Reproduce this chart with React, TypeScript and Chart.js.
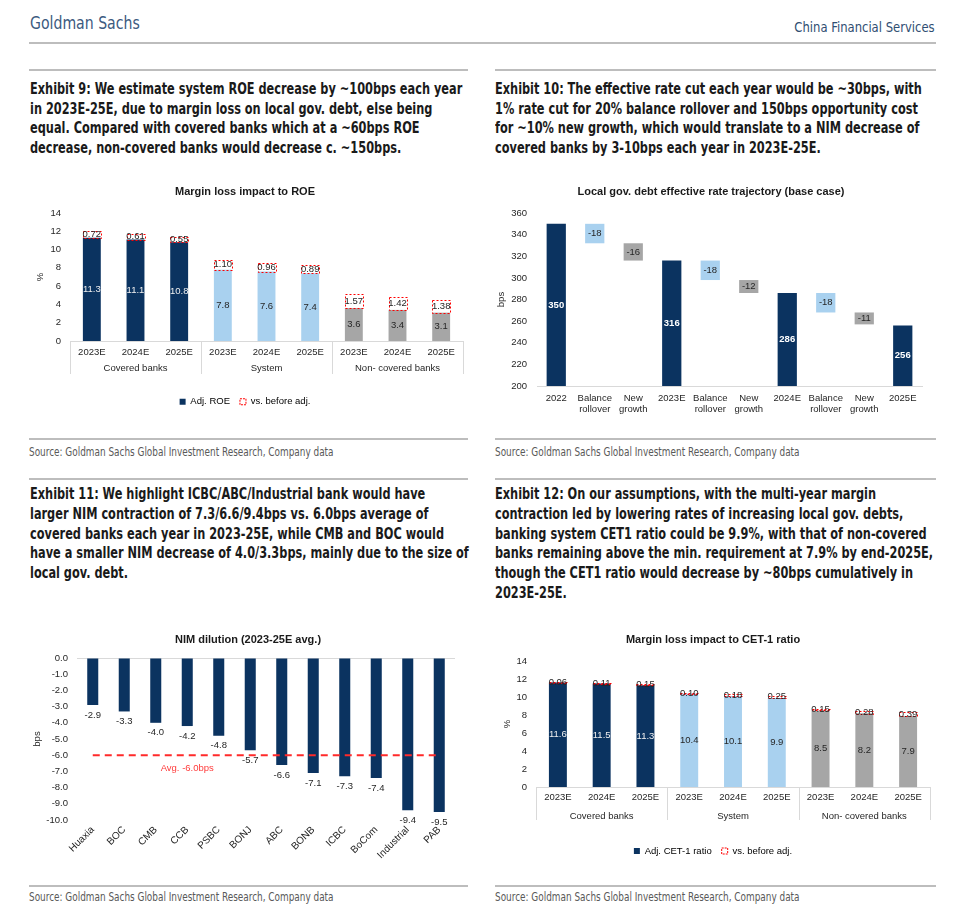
import React, { useEffect, useRef } from 'react';
import { Chart, registerables } from 'chart.js';

Chart.register(...registerables);

// ---------------- data ----------------
// Exhibit 9
const ROE_YEARS = ['2023E', '2024E', '2025E', '2023E', '2024E', '2025E', '2023E', '2024E', '2025E'];
const ROE_GROUPS = ['Covered banks', 'System', 'Non- covered banks'];
const ADJ_ROE = [11.3, 11.1, 10.8, 7.8, 7.6, 7.4, 3.6, 3.4, 3.1];
const ROE_VS_BEFORE = [0.72, 0.61, 0.55, 1.1, 0.96, 0.89, 1.57, 1.42, 1.38];
const ROE_Y_MIN = 0;
const ROE_Y_MAX = 14;
const ROE_Y_STEP = 2;

// Exhibit 10
const RATE_LABELS = [
  ['2022'], ['Balance', 'rollover'], ['New', 'growth'],
  ['2023E'], ['Balance', 'rollover'], ['New', 'growth'],
  ['2024E'], ['Balance', 'rollover'], ['New', 'growth'],
  ['2025E'],
];
const RATE_KINDS = ['total', 'rollover', 'growth', 'total', 'rollover', 'growth', 'total', 'rollover', 'growth', 'total'];
const RATE_VALUES = [350, -18, -16, 316, -18, -12, 286, -18, -11, 256];
const RATE_Y_MIN = 200;
const RATE_Y_MAX = 360;
const RATE_Y_STEP = 20;

// Exhibit 11
const NIM_BANKS = ['Huaxia', 'BOC', 'CMB', 'CCB', 'PSBC', 'BONJ', 'ABC', 'BONB', 'ICBC', 'BoCom', 'Industrial', 'PAB'];
const NIM_DILUTION = [-2.9, -3.3, -4.0, -4.2, -4.8, -5.7, -6.6, -7.1, -7.3, -7.4, -9.4, -9.5];
const NIM_AVG = -6.0;
const NIM_AVG_LABEL = 'Avg. -6.0bps';
const NIM_Y_MIN = -10;
const NIM_Y_MAX = 0;

// Exhibit 12
const CET1_YEARS = ['2023E', '2024E', '2025E', '2023E', '2024E', '2025E', '2023E', '2024E', '2025E'];
const CET1_GROUPS = ['Covered banks', 'System', 'Non- covered banks'];
const ADJ_CET1 = [11.6, 11.5, 11.3, 10.4, 10.1, 9.9, 8.5, 8.2, 7.9];
const CET1_VS_BEFORE = [0.06, 0.11, 0.15, 0.1, 0.18, 0.25, 0.15, 0.28, 0.39];

// ---------------- styles ----------------
const NAVY = '#0b3360';
const LIGHT_BLUE = '#a9d1ef';
const GRAY = '#a6a6a6';
const RED = '#ff0000';
const TEXT = '#262626';
const AXIS = '#d9d9d9';
const GROUP_COLORS = [NAVY, LIGHT_BLUE, GRAY];
const GROUP_LABEL_COLORS = ['#f0f0f0', TEXT, TEXT];
const CHART_FONT = '"Liberation Sans", Arial, sans-serif';
const COND_FONT = '"DejaVu Sans Condensed", "DejaVu Sans", sans-serif';
const FS = 9.5;

Chart.defaults.font.family = CHART_FONT;
Chart.defaults.font.size = FS;
Chart.defaults.color = TEXT;

// ---------------- plugins ----------------
const groupSeparators = {
  id: 'groupSeparators',
  afterDraw(chart: any) {
    const x = chart.scales.x;
    const x2 = chart.scales.x2;
    if (!x || !x2) return;
    const groups = x2.getLabels().length;
    const n = x.getLabels().length;
    const per = n / groups;
    const ctx = chart.ctx;
    ctx.save();
    ctx.strokeStyle = AXIS;
    ctx.lineWidth = 1;
    for (let g = 0; g <= groups; g++) {
      const px = Math.round(x.left + (x.width * g * per) / n) + 0.5;
      ctx.beginPath();
      ctx.moveTo(px, x.top);
      ctx.lineTo(px, x2.top + 16);
      ctx.stroke();
    }
    ctx.restore();
  },
};

const dashedSegments = {
  id: 'dashedSegments',
  afterDatasetsDraw(chart: any) {
    const ctx = chart.ctx;
    chart.data.datasets.forEach((ds: any, di: number) => {
      if (!ds.dashed) return;
      const meta = chart.getDatasetMeta(di);
      ctx.save();
      ctx.strokeStyle = RED;
      ctx.lineWidth = 1;
      ctx.setLineDash([2, 2]);
      meta.data.forEach((el: any) => {
        const p = el.getProps(['x', 'y', 'base', 'width'], true);
        const top = Math.min(p.y, p.base);
        const h = Math.abs(p.base - p.y);
        ctx.strokeRect(Math.round(p.x - p.width / 2) + 0.5, Math.round(top) + 0.5, Math.round(p.width), Math.max(1, Math.round(h)));
      });
      ctx.restore();
    });
  },
};

const valueLabels = {
  id: 'valueLabels',
  afterDatasetsDraw(chart: any) {
    const ctx = chart.ctx;
    const area = chart.chartArea;
    chart.data.datasets.forEach((ds: any, di: number) => {
      if (!ds.labelText) return;
      const meta = chart.getDatasetMeta(di);
      meta.data.forEach((el: any, i: number) => {
        const p = el.getProps(['x', 'y', 'base'], true);
        const text = ds.labelText(i);
        const color = ds.labelColor ? ds.labelColor(i) : TEXT;
        const bold = ds.labelBold ? ds.labelBold(i) : false;
        let y: number;
        if (ds.labelPos === 'below') {
          y = Math.max(p.y, p.base) + 10;
        } else {
          const bottom = Math.min(Math.max(p.y, p.base), area.bottom);
          const top = Math.max(Math.min(p.y, p.base), area.top);
          y = (top + bottom) / 2;
        }
        ctx.save();
        ctx.font = `${bold ? 'bold ' : ''}${FS}px ${CHART_FONT}`;
        ctx.fillStyle = color;
        ctx.textAlign = 'center';
        ctx.textBaseline = 'middle';
        ctx.fillText(text, p.x, y);
        ctx.restore();
      });
    });
  },
};

const avgLabel = {
  id: 'avgLabel',
  afterDatasetsDraw(chart: any) {
    const x = chart.scales.x;
    const y = chart.scales.y;
    const ctx = chart.ctx;
    ctx.save();
    ctx.font = `${FS}px ${CHART_FONT}`;
    ctx.fillStyle = '#ff3b3b';
    ctx.textAlign = 'center';
    ctx.textBaseline = 'middle';
    ctx.fillText(NIM_AVG_LABEL, x.getPixelForValue(3), y.getPixelForValue(NIM_AVG) + 13);
    ctx.restore();
  },
};

// ---------------- chart configs ----------------
function groupedConfig(opts: {
  title: string; years: string[]; groups: string[]; adj: number[]; delta: number[];
  adjLabel: string; padLeft: number; padRight: number; padBottom: number; yWidth: number;
  yTitlePad: number; titlePadTop: number; titlePadBottom: number; xPad: number; x2Pad: number; x2Height: number;
}) {
  const per = opts.years.length / opts.groups.length;
  const groupOf = (i: number) => Math.floor(i / per);
  return {
    type: 'bar',
    data: {
      labels: opts.years,
      datasets: [
        {
          label: opts.adjLabel,
          data: opts.adj,
          backgroundColor: opts.adj.map((_: number, i: number) => GROUP_COLORS[groupOf(i)]),
          borderWidth: 0,
          stack: 's',
          categoryPercentage: 1,
          barPercentage: 0.41,
          labelText: (i: number) => opts.adj[i].toFixed(1),
          labelColor: (i: number) => GROUP_LABEL_COLORS[groupOf(i)],
        },
        {
          label: 'vs. before adj.',
          data: opts.delta,
          backgroundColor: 'rgba(255,255,255,0)',
          borderWidth: 0,
          stack: 's',
          categoryPercentage: 1,
          barPercentage: 0.41,
          dashed: true,
          labelText: (i: number) => opts.delta[i].toFixed(2),
        },
      ],
    },
    options: {
      responsive: false,
      animation: false,
      layout: { padding: { left: opts.padLeft, right: opts.padRight, bottom: opts.padBottom, top: 0 } },
      plugins: {
        tooltip: { enabled: false },
        title: {
          display: true,
          text: opts.title,
          color: '#1a1a1a',
          font: { size: 11, weight: 'bold', family: CHART_FONT },
          padding: { top: opts.titlePadTop, bottom: opts.titlePadBottom },
        },
        legend: {
          display: true,
          position: 'bottom',
          labels: {
            boxWidth: 6,
            boxHeight: 6,
            padding: 10,
            color: TEXT,
            font: { size: FS },
            generateLabels: () => [
              { text: opts.adjLabel, fillStyle: NAVY, strokeStyle: NAVY, lineWidth: 0, hidden: false, datasetIndex: 0 },
              { text: 'vs. before adj.', fillStyle: '#ffffff', strokeStyle: RED, lineWidth: 1, lineDash: [2, 1], hidden: false, datasetIndex: 1 },
            ],
          },
        },
      },
      scales: {
        x: {
          stacked: true,
          grid: { display: false, drawTicks: false },
          border: { display: true, color: AXIS },
          ticks: { padding: opts.xPad, color: TEXT, maxRotation: 0, autoSkip: false },
          afterFit: (s: any) => { s.height = 17; },
        },
        x2: {
          type: 'category',
          labels: opts.groups,
          position: 'bottom',
          offset: true,
          grid: { display: false, drawTicks: false },
          border: { display: false },
          ticks: { padding: opts.x2Pad, color: TEXT, maxRotation: 0, autoSkip: false },
          afterFit: (s: any) => { s.height = opts.x2Height; },
        },
        y: {
          stacked: true,
          min: ROE_Y_MIN,
          max: ROE_Y_MAX,
          ticks: { stepSize: ROE_Y_STEP, padding: 9, color: TEXT },
          grid: { display: false, drawTicks: false },
          border: { display: false },
          title: { display: true, text: '%', color: TEXT, font: { size: FS }, padding: { top: opts.yTitlePad, bottom: 0 } },
          afterFit: (s: any) => { s.width = opts.yWidth; },
        },
      },
    },
    plugins: [groupSeparators, dashedSegments, valueLabels],
  };
}

function rateConfig() {
  let level = 0;
  const bars = RATE_VALUES.map((v, i) => {
    if (RATE_KINDS[i] === 'total') { level = v; return v; }
    const start = level;
    level = level + v;
    return [level, start];
  });
  const colorOf = (i: number) => (RATE_KINDS[i] === 'total' ? NAVY : RATE_KINDS[i] === 'rollover' ? LIGHT_BLUE : GRAY);
  return {
    type: 'bar',
    data: {
      labels: RATE_LABELS,
      datasets: [
        {
          data: bars,
          base: RATE_Y_MIN,
          backgroundColor: RATE_VALUES.map((_, i) => colorOf(i)),
          borderWidth: 0,
          categoryPercentage: 1,
          barPercentage: 0.5,
          labelText: (i: number) => String(RATE_VALUES[i]),
          labelColor: (i: number) => (RATE_KINDS[i] === 'total' ? '#ffffff' : TEXT),
          labelBold: (i: number) => RATE_KINDS[i] === 'total',
        },
      ],
    },
    options: {
      responsive: false,
      animation: false,
      layout: { padding: { left: 5, right: 23, bottom: 3, top: 0 } },
      plugins: {
        tooltip: { enabled: false },
        legend: { display: false },
        title: {
          display: true,
          text: 'Local gov. debt effective rate trajectory (base case)',
          color: '#1a1a1a',
          font: { size: 11, weight: 'bold', family: CHART_FONT },
          padding: { top: 7.4, bottom: 14.4 },
        },
      },
      scales: {
        x: {
          grid: { display: false, drawTicks: false },
          border: { display: true, color: AXIS },
          ticks: { padding: 6.3, color: TEXT, maxRotation: 0, autoSkip: false },
          afterFit: (s: any) => { s.height = 29; },
        },
        y: {
          min: RATE_Y_MIN,
          max: RATE_Y_MAX,
          ticks: { stepSize: RATE_Y_STEP, padding: 10, color: TEXT },
          grid: { display: false, drawTicks: false },
          border: { display: false },
          title: { display: true, text: 'bps', color: TEXT, font: { size: FS }, padding: { top: -4.7, bottom: 0 } },
          afterFit: (s: any) => { s.width = 37; },
        },
      },
    },
    plugins: [valueLabels],
  };
}

function nimConfig() {
  return {
    type: 'bar',
    data: {
      labels: NIM_BANKS,
      datasets: [
        {
          type: 'line',
          data: NIM_BANKS.map(() => NIM_AVG),
          borderColor: '#ff2a2a',
          borderWidth: 2,
          borderDash: [7, 5],
          pointRadius: 0,
          fill: false,
          order: 0,
        },
        {
          type: 'bar',
          data: NIM_DILUTION,
          backgroundColor: NAVY,
          borderWidth: 0,
          categoryPercentage: 1,
          barPercentage: 0.35,
          order: 1,
          labelText: (i: number) => NIM_DILUTION[i].toFixed(1),
          labelPos: 'below',
        },
      ],
    },
    options: {
      responsive: false,
      animation: false,
      layout: { padding: { left: 25, right: 21, bottom: 11, top: 0 } },
      plugins: {
        tooltip: { enabled: false },
        legend: { display: false },
        title: {
          display: true,
          text: 'NIM dilution (2023-25E avg.)',
          color: '#1a1a1a',
          font: { size: 11, weight: 'bold', family: CHART_FONT },
          padding: { top: 7.4, bottom: 11.4 },
        },
      },
      scales: {
        x: {
          grid: { display: false, drawTicks: false },
          border: { display: false },
          ticks: { padding: 4, color: TEXT, minRotation: 45, maxRotation: 45, autoSkip: false, font: { size: 10 } },
          afterFit: (s: any) => { s.height = 45; },
        },
        y: {
          min: NIM_Y_MIN,
          max: NIM_Y_MAX,
          ticks: { stepSize: 1, padding: 9, color: TEXT, callback: (v: any) => Number(v).toFixed(1) },
          grid: {
            drawTicks: false,
            color: (c: any) => (c.tick && c.tick.value === 0 ? AXIS : 'rgba(0,0,0,0)'),
          },
          border: { display: false },
          title: { display: true, text: 'bps', color: TEXT, font: { size: FS }, padding: { top: -9.7, bottom: 0 } },
          afterFit: (s: any) => { s.width = 36; },
        },
      },
    },
    plugins: [valueLabels, avgLabel],
  };
}

// ---------------- components ----------------
function ChartBox({ left, top, width, height, make }: any) {
  const ref = useRef<HTMLCanvasElement>(null);
  useEffect(() => {
    if (!ref.current) return;
    const chart = new Chart(ref.current, make());
    return () => chart.destroy();
  }, []);
  return (
    <canvas
      ref={ref}
      width={width}
      height={height}
      style={{ position: 'absolute', left, top, width, height }}
    />
  );
}

function Line({ left, top, width, h = 2 }: any) {
  return <div style={{ position: 'absolute', left, top, width, height: h, background: '#bdbdbd' }} />;
}

function Cond({ children, k, origin = 'left' }: any) {
  return (
    <span style={{ display: 'inline-block', transform: `scaleX(${k})`, transformOrigin: origin }}>{children}</span>
  );
}

function TextLines({ left, firstY, step, lines, size = 15 }: any) {
  return (
    <>
      {lines.map((t: string, i: number) => (
        <div
          key={i}
          style={{
            position: 'absolute', left, top: firstY + i * step - 10, height: 20, lineHeight: '20px',
            whiteSpace: 'nowrap', fontFamily: COND_FONT, fontWeight: 'bold', fontSize: size, color: '#1a1a1a',
          }}
        >
          <Cond k={0.84}>{t}</Cond>
        </div>
      ))}
    </>
  );
}

function Source({ left, cy }: any) {
  return (
    <div
      style={{
        position: 'absolute', left, top: cy - 8, height: 16, lineHeight: '16px', whiteSpace: 'nowrap',
        fontFamily: COND_FONT, fontSize: 11.5, color: '#595959',
      }}
    >
      <Cond k={0.86}>Source: Goldman Sachs Global Investment Research, Company data</Cond>
    </div>
  );
}

const EX9 = [
  'Exhibit 9: We estimate system ROE decrease by ~100bps each year',
  'in 2023E-25E, due to margin loss on local gov. debt, else being',
  'equal. Compared with covered banks which at a ~60bps ROE',
  'decrease, non-covered banks would decrease c. ~150bps.',
];
const EX10 = [
  'Exhibit 10: The effective rate cut each year would be ~30bps, with',
  '1% rate cut for 20% balance rollover and 150bps opportunity cost',
  'for ~10% new growth, which would translate to a NIM decrease of',
  'covered banks by 3-10bps each year in 2023E-25E.',
];
const EX11 = [
  'Exhibit 11: We highlight ICBC/ABC/Industrial bank would have',
  'larger NIM contraction of 7.3/6.6/9.4bps vs. 6.0bps average of',
  'covered banks each year in 2023-25E, while CMB and BOC would',
  'have a smaller NIM decrease of 4.0/3.3bps, mainly due to the size of',
  'local gov. debt.',
];
const EX12 = [
  'Exhibit 12: On our assumptions, with the multi-year margin',
  'contraction led by lowering rates of increasing local gov. debts,',
  'banking system CET1 ratio could be 9.9%, with that of non-covered',
  'banks remaining above the min. requirement at 7.9% by end-2025E,',
  'though the CET1 ratio would decrease by ~80bps cumulatively in',
  '2023E-25E.',
];

export default function App() {
  return (
    <div style={{ position: 'absolute', left: 0, top: 0, width: 960, height: 914, background: '#ffffff', overflow: 'hidden' }}>
      <div style={{ position: 'absolute', left: 30, top: 12, height: 22, lineHeight: '22px', fontFamily: COND_FONT, fontSize: 18, color: '#3c5a80', whiteSpace: 'nowrap' }}>
        <Cond k={0.87}>Goldman Sachs</Cond>
      </div>
      <div style={{ position: 'absolute', right: 25, top: 18, height: 18, lineHeight: '18px', fontFamily: COND_FONT, fontSize: 14.5, color: '#2f4e72', whiteSpace: 'nowrap' }}>
        <Cond k={0.89} origin="right">China Financial Services</Cond>
      </div>
      <Line left={29} top={42} width={907} />
      <Line left={29} top={69} width={439} />
      <Line left={495} top={69} width={441} />

      <TextLines left={30} firstY={89} step={19.5} lines={EX9} />
      <TextLines left={495} firstY={89} step={19.5} lines={EX10} />

      <ChartBox left={16} top={178} width={460} height={240} make={() => groupedConfig({
        title: 'Margin loss impact to ROE', years: ROE_YEARS, groups: ROE_GROUPS, adj: ADJ_ROE, delta: ROE_VS_BEFORE,
        adjLabel: 'Adj. ROE', padLeft: 11, padRight: 13, padBottom: 1.5, yWidth: 43, yTitlePad: 7.3,
        titlePadTop: 7.4, titlePadBottom: 14.4, xPad: 5.3, x2Pad: 4.3, x2Height: 29,
      })} />
      <ChartBox left={495} top={178} width={450} height={240} make={rateConfig} />

      <Line left={29} top={438} width={439} h={1.5} />
      <Line left={495} top={438} width={441} h={1.5} />
      <Source left={29} cy={452} />
      <Source left={495} cy={452} />
      <Line left={29} top={478} width={439} />
      <Line left={495} top={478} width={441} />

      <TextLines left={30} firstY={494} step={19.75} lines={EX11} />
      <TextLines left={495} firstY={494} step={19.75} lines={EX12} />

      <ChartBox left={16} top={626} width={460} height={250} make={nimConfig} />
      <ChartBox left={495} top={626} width={450} height={242} make={() => groupedConfig({
        title: 'Margin loss impact to CET-1 ratio', years: CET1_YEARS, groups: CET1_GROUPS, adj: ADJ_CET1, delta: CET1_VS_BEFORE,
        adjLabel: 'Adj. CET-1 ratio', padLeft: 1, padRight: 15, padBottom: 2.25, yWidth: 40, yTitlePad: 5.3,
        titlePadTop: 7.4, titlePadBottom: 14.4, xPad: 4.3, x2Pad: 6.3, x2Height: 32.25,
      })} />

      <Line left={29} top={885} width={439} h={1.5} />
      <Line left={495} top={885} width={441} h={1.5} />
      <Source left={29} cy={897} />
      <Source left={495} cy={897} />
    </div>
  );
}
